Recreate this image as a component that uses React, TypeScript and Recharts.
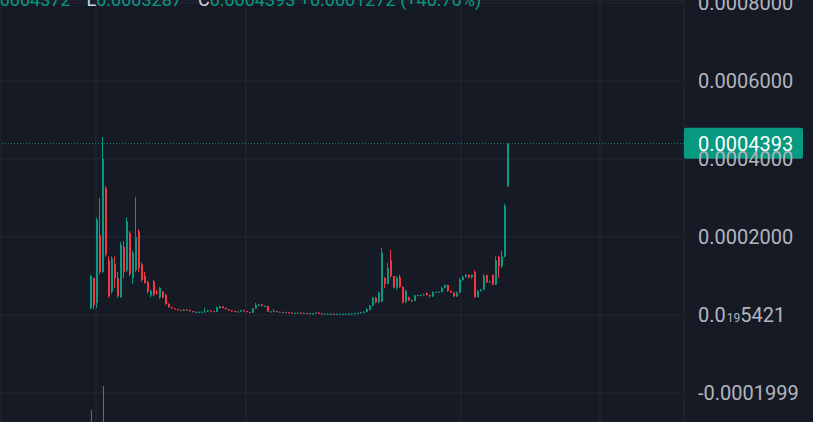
import React from 'react'
import { ComposedChart, Bar, Scatter, XAxis, YAxis, CartesianGrid, ReferenceLine } from 'recharts'

const W = 813
const H = 422
const AXIS_W = 129
const FONT = 'Roboto, "Liberation Sans", sans-serif'

const BG = '#161a25'
const GRID = '#242833'
const UP = '#089981'
const DOWN = '#f23645'
const AXIS_TEXT = '#b2b5be'
const LEGEND_LABEL = '#d1d4dc'

// prices are in millionths (1e-6)
const opens = [
  18, 95, 30, 205, 110, 325, 140, 60, 130, 95,
  46, 175, 115, 210, 95, 115, 215, 130, 100, 85,
  50, 85, 60, 45, 60, 52, 28, 20, 17, 15,
  13, 11, 14, 13, 10, 8, 8, 8, 8, 9,
  12, 10, 8, 18, 22, 18, 15, 12, 10, 9,
  9, 12, 10, 8, 6, 17, 25, 27, 23, 23,
  9, 9, 10, 8, 8, 7, 7, 6, 5, 5,
  6, 5, 5, 4, 4, 4, 6, 4, 3, 3,
  3, 3, 2, 3, 3, 3, 3, 3, 4, 4,
  5, 7, 8, 13, 24, 44, 33, 35, 95, 80,
  140, 100, 70, 97, 72, 33, 45, 38, 36, 50,
  51, 51, 56, 51, 48, 59, 59, 59, 70, 77,
  62, 58, 48, 58, 90, 98, 103, 96, 110, 46,
  62, 65, 102, 84, 103, 78, 149, 125, 150, 330,
]
const highs = [
  103, 95, 250, 300, 456, 330, 150, 150, 150, 110,
  187, 190, 250, 215, 165, 303, 220, 135, 110, 88,
  65, 90, 65, 72, 62, 54, 30, 21, 17, 15,
  13, 15, 15, 13, 10, 9, 9, 9, 18, 13,
  12, 10, 21, 24, 23, 19, 15, 13, 11, 10,
  13, 13, 10, 8, 18, 31, 28, 28, 24, 24,
  10, 15, 11, 9, 8, 8, 7, 7, 6, 6,
  6, 6, 5, 5, 5, 7, 7, 4, 4, 4,
  4, 4, 4, 3, 4, 4, 4, 4, 5, 6,
  8, 10, 18, 26, 46, 46, 60, 172, 97, 133,
  167, 100, 100, 103, 74, 65, 47, 40, 52, 52,
  52, 55, 58, 52, 60, 60, 60, 72, 78, 78,
  63, 58, 60, 95, 100, 105, 104, 104, 115, 64,
  66, 105, 104, 88, 104, 150, 152, 165, 285, 439.3,
]
const lows = [
  15, 15, 18, 105, 108, 150, 45, 55, 70, 44,
  44, 95, 110, 100, 80, 110, 110, 85, 80, 55,
  45, 48, 52, 42, 43, 26, 19, 16, 14, 12,
  10, 10, 12, 9, 7, 7, 7, 7, 7, 8,
  9, 7, 8, 16, 17, 14, 11, 9, 8, 8,
  8, 9, 7, 5, 5, 16, 24, 22, 21, 8,
  8, 8, 7, 7, 6, 6, 5, 5, 4, 4,
  4, 4, 3, 3, 3, 3, 4, 2, 2, 2,
  2, 1, 2, 2, 2, 2, 2, 2, 3, 3,
  4, 6, 7, 12, 22, 30, 30, 33, 69, 78,
  95, 68, 65, 70, 30, 30, 36, 33, 35, 48,
  49, 50, 50, 45, 46, 58, 58, 58, 68, 60,
  56, 46, 46, 56, 88, 96, 94, 93, 44, 45,
  60, 64, 82, 83, 77, 77, 95, 120, 148, 328.7,
]
const closes = [
  100, 25, 245, 110, 400, 155, 48, 145, 95, 48,
  180, 110, 240, 105, 160, 200, 120, 90, 82, 60,
  62, 52, 55, 70, 45, 28, 20, 17, 15, 13,
  11, 14, 13, 10, 8, 8, 8, 8, 9, 12,
  10, 8, 20, 22, 18, 15, 12, 10, 9, 9,
  12, 10, 8, 6, 17, 25, 27, 23, 23, 9,
  9, 10, 8, 8, 7, 7, 6, 5, 5, 6,
  5, 5, 4, 4, 4, 6, 4, 3, 3, 3,
  3, 2, 3, 3, 3, 3, 3, 4, 4, 5,
  7, 8, 15, 24, 44, 33, 57, 160, 80, 120,
  100, 70, 95, 72, 32, 62, 38, 36, 50, 51,
  51, 53, 51, 48, 59, 59, 60, 70, 77, 62,
  58, 48, 58, 90, 98, 103, 96, 103, 46, 62,
  65, 100, 84, 86, 78, 140, 125, 150, 280, 439.3,
]
// volume (millions), only the first bars are visible at the bottom edge
const volumes = [
  1.2, 0, 0, 0, 3.6, 0, 0, 0, 0, 0,
  0, 0, 0, 0, 0, 0, 0, 0, 0, 0,
  0, 0, 0, 0, 0, 0, 0, 0, 0, 0,
  0, 0, 0, 0, 0, 0, 0, 0, 0, 0,
  0, 0, 0, 0, 0, 0, 0, 0, 0, 0,
  0, 0, 0, 0, 0, 0, 0, 0, 0, 0,
  0, 0, 0, 0, 0, 0, 0, 0, 0, 0,
  0, 0, 0, 0, 0, 0, 0, 0, 0, 0,
  0, 0, 0, 0, 0, 0, 0, 0, 0, 0,
  0, 0, 0, 0, 0, 0, 0, 0, 0, 0,
  0, 0, 0, 0, 0, 0, 0, 0, 0, 0,
  0, 0, 0, 0, 0, 0, 0, 0, 0, 0,
  0, 0, 0, 0, 0, 0, 0, 0, 0, 0,
  0, 0, 0, 0, 0, 0, 0, 0, 0, 0,
]

const priceTicks = [-0.0002, 0, 0.0002, 0.0004, 0.0006, 0.0008]
const priceTickLabels = ['-0.0001999', '0.0|19|5421', '0.0002000', '0.0004000', '0.0006000', '0.0008000']
// time grid lines (bar index)
const timeGrid = [1.67, 51.67, 123.33, 169.67]

const legendItems = [
  { label: 'H', value: '0.0004372' },
  { label: 'L', value: '0.0003287' },
  { label: 'C', value: '0.0004393 +0.0001272 (+40.76%)' },
]

const U = 1e-6
const data = closes.map((c, i) => ({
  i,
  open: opens[i] * U,
  high: highs[i] * U,
  low: lows[i] * U,
  close: c * U,
  range: [lows[i] * U, highs[i] * U],
  volume: volumes[i],
}))
const last = data[data.length - 1]

function Candle(props: any) {
  const { x, y, width, height, payload } = props
  const { open, close, high, low } = payload
  const color = close >= open ? UP : DOWN
  const top = Math.min(y, y + height)
  const h = Math.abs(height)
  const k = high > low ? h / (high - low) : 0
  const cx = Math.round(x + width / 2)
  const bodyTop = top + (high - Math.max(open, close)) * k
  const bodyH = Math.max(1, Math.abs(open - close) * k)
  return (
    <g>
      <rect x={cx - 1} y={top} width={1} height={Math.max(1, h)} fill={color} />
      <rect x={cx - 1} y={bodyTop} width={2} height={bodyH} fill={color} />
    </g>
  )
}

function VolumeBar(props: any) {
  const { cx, cy } = props
  if (cy == null || cy >= H) return <g />
  return <rect x={Math.round(cx)} y={cy} width={1} height={H - cy} fill={UP} />
}

function PriceTick(props: any) {
  const { x, y, payload } = props
  const idx = priceTicks.findIndex((t) => Math.abs(t - payload.value) < 1e-12)
  const label = priceTickLabels[idx] ?? ''
  const parts = label.split('|')
  return (
    <text x={x} y={y} dy="0.35em" fill={AXIS_TEXT} fontSize={20} fontFamily={FONT} textAnchor="start">
      {parts.length === 3 ? (
        <>
          <tspan>{parts[0]}</tspan>
          <tspan fontSize={12} dx={1}>{parts[1]}</tspan>
          <tspan>{parts[2]}</tspan>
        </>
      ) : (
        label
      )}
    </text>
  )
}

function PriceTag(props: any) {
  const { viewBox } = props
  const x = viewBox.x + viewBox.width
  const y = viewBox.y
  return (
    <g>
      <rect x={x} y={y - 16} width={119} height={31} rx={2} fill={UP} />
      <text x={x + 14} y={y} dy="0.35em" fill="#ffffff" fontSize={20} fontFamily={FONT}>
        {last.close.toFixed(7)}
      </text>
    </g>
  )
}

export default function App() {
  return (
    <div
      style={{
        position: 'absolute',
        left: 0,
        top: 0,
        width: W,
        height: H,
        background: BG,
        overflow: 'hidden',
      }}
    >
      <ComposedChart width={W} height={H} data={data} margin={{ top: 0, right: 0, left: 0, bottom: 0 }}>
        <CartesianGrid stroke={GRID} vertical={true} horizontal={true} />
        <XAxis
          dataKey="i"
          type="number"
          domain={[-30.3333, 197.6667]}
          allowDataOverflow
          ticks={timeGrid}
          hide
        />
        <YAxis
          orientation="right"
          width={AXIS_W}
          domain={[-0.00027436, 0.00080769]}
          allowDataOverflow
          ticks={priceTicks}
          interval={0}
          axisLine={false}
          tickLine={false}
          tickSize={0}
          tickMargin={14}
          tick={<PriceTick />}
        />
        <YAxis yAxisId="vol" hide domain={[0, 42.2]} allowDataOverflow />
        <Bar dataKey="range" barSize={3} shape={<Candle />} isAnimationActive={false} />
        <Scatter yAxisId="vol" dataKey="volume" shape={<VolumeBar />} isAnimationActive={false} />
        <ReferenceLine
          y={last.close}
          stroke={UP}
          strokeDasharray="1 2"
          label={<PriceTag />}
        />
      </ComposedChart>
      <div
        style={{
          position: 'absolute',
          left: -28,
          top: -10,
          fontFamily: FONT,
          fontSize: 18,
          lineHeight: '19px',
          whiteSpace: 'nowrap',
        }}
      >
        {legendItems.map((it, k) => (
          <span key={k} style={{ display: 'inline-block', marginRight: 16 }}>
            <span style={{ color: LEGEND_LABEL }}>{it.label}</span>
            <span style={{ color: UP }}>{it.value}</span>
          </span>
        ))}
      </div>
    </div>
  )
}
